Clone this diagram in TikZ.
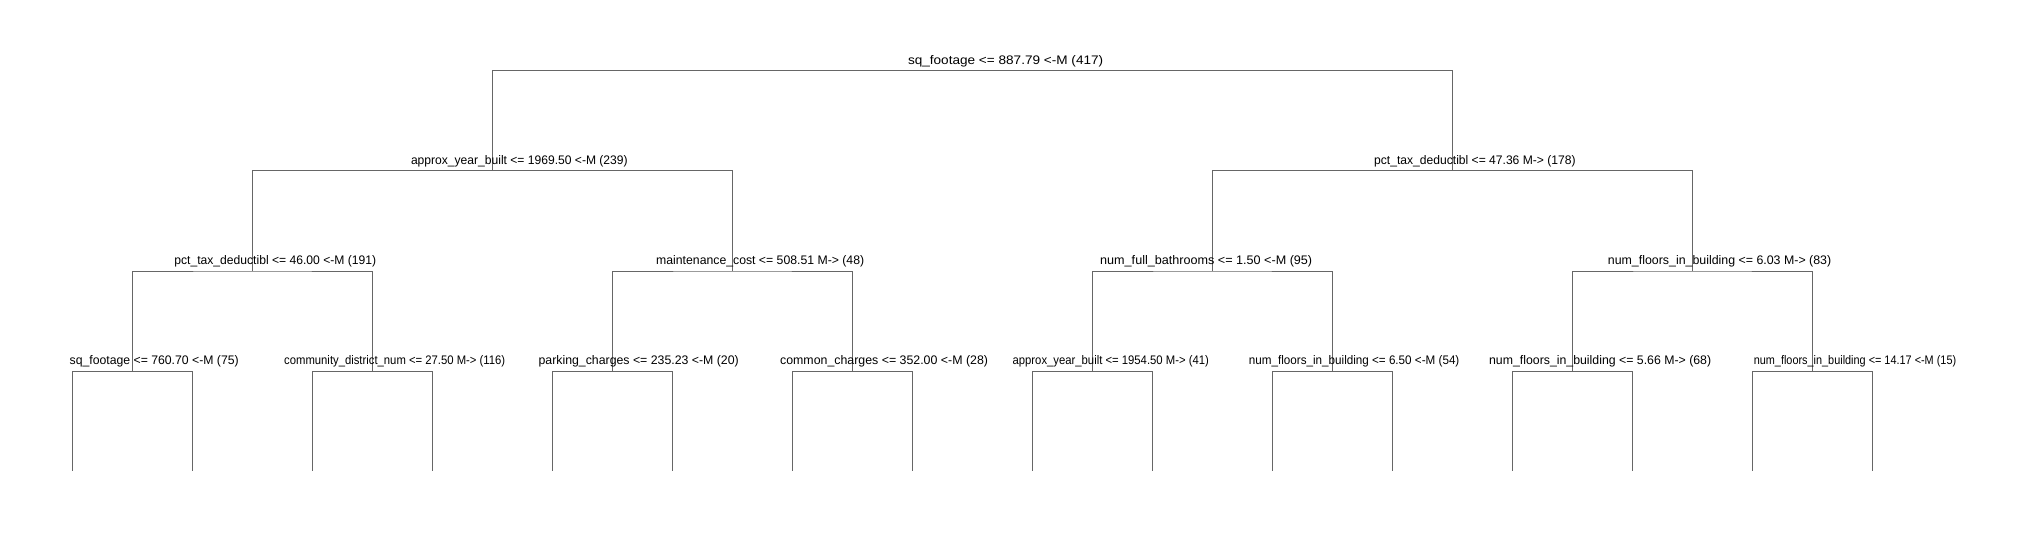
\documentclass[tikz,border=0pt]{standalone}
\usepackage{fontspec}
\usepackage{graphicx}
\setmainfont{Liberation Sans}
\newcommand\labfont{\fontsize{12.4pt}{14pt}\selectfont}
% name, left edge, right edge, baseline y, text
\newcommand\treelabel[5]{%
  \pgfmathsetmacro\labwid{#3-#2}%
  \node[lab] (#1) at (#2,#4) {\resizebox{\labwid pt}{\height}{#5}};}
\begin{document}
\begin{tikzpicture}[x=1pt,y=-1pt,
  conn/.style={draw=black!60, line width=1pt},
  lab/.style={font=\labfont, inner sep=0pt, anchor=base west, text=black}]
\useasboundingbox (0,0) rectangle (2024,540);
% split points
\coordinate (r) at (972.3,70.8);
\coordinate (a0) at (492.3,170.9);
\coordinate (a1) at (1452.3,170.9);
\foreach \i in {0,...,3} \coordinate (b\i) at ({252.3+480*\i},271);
\foreach \i in {0,...,7} \coordinate (c\i) at ({132.3+240*\i},371.2);
\foreach \i in {0,...,15} \coordinate (l\i) at ({72.3+120*\i},470.7);
% connectors
\draw[conn] (a0) |- (r) -| (a1);
\draw[conn] (b0) |- (a0) -| (b1);
\draw[conn] (b2) |- (a1) -| (b3);
\draw[conn] (c0) |- (b0) -| (c1);
\draw[conn] (c2) |- (b1) -| (c3);
\draw[conn] (c4) |- (b2) -| (c5);
\draw[conn] (c6) |- (b3) -| (c7);
\draw[conn] (l0) |- (c0) -| (l1);
\draw[conn] (l2) |- (c1) -| (l3);
\draw[conn] (l4) |- (c2) -| (l5);
\draw[conn] (l6) |- (c3) -| (l7);
\draw[conn] (l8) |- (c4) -| (l9);
\draw[conn] (l10) |- (c5) -| (l11);
\draw[conn] (l12) |- (c6) -| (l13);
\draw[conn] (l14) |- (c7) -| (l15);
% labels
\treelabel{tr}{907.8}{1103}{64.3}{sq\_footage <= 887.79 <-M (417)}
\treelabel{ta0}{410.8}{627.5}{164.4}{approx\_year\_built <= 1969.50 <-M (239)}
\treelabel{ta1}{1374}{1575.4}{164.4}{pct\_tax\_deductibl <= 47.36 M-> (178)}
\treelabel{tb0}{174.2}{376}{264.5}{pct\_tax\_deductibl <= 46.00 <-M (191)}
\treelabel{tb1}{656}{864}{264.5}{maintenance\_cost <= 508.51 M-> (48)}
\treelabel{tb2}{1100}{1312}{264.5}{num\_full\_bathrooms <= 1.50 <-M (95)}
\treelabel{tb3}{1607.7}{1831}{264.5}{num\_floors\_in\_building <= 6.03 M-> (83)}
\treelabel{tc0}{69.5}{238.5}{364.7}{sq\_footage <= 760.70 <-M (75)}
\treelabel{tc1}{284}{505}{364.7}{community\_district\_num <= 27.50 M-> (116)}
\treelabel{tc2}{538.4}{738.6}{364.7}{parking\_charges <= 235.23 <-M (20)}
\treelabel{tc3}{779.9}{987.8}{364.7}{common\_charges <= 352.00 <-M (28)}
\treelabel{tc4}{1012.4}{1208.7}{364.7}{approx\_year\_built <= 1954.50 M-> (41)}
\treelabel{tc5}{1248.7}{1459.2}{364.7}{num\_floors\_in\_building <= 6.50 <-M (54)}
\treelabel{tc6}{1488.9}{1711}{364.7}{num\_floors\_in\_building <= 5.66 M-> (68)}
\treelabel{tc7}{1753.6}{1956}{364.7}{num\_floors\_in\_building <= 14.17 <-M (15)}
\end{tikzpicture}
\end{document}
